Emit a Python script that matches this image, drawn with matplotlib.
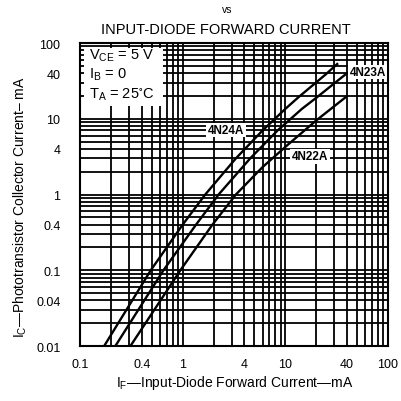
import matplotlib
matplotlib.use("Agg")
import matplotlib.pyplot as plt
from matplotlib.patches import Rectangle
from matplotlib.ticker import NullFormatter, LogLocator
import numpy as np

plt.rcParams['font.family'] = ['Liberation Sans', 'DejaVu Sans']
plt.rcParams['mathtext.fontset'] = 'custom'
plt.rcParams['mathtext.rm'] = 'Liberation Sans'
plt.rcParams['mathtext.default'] = 'regular'

# Data (IF in mA, IC in mA)
if_4n24a = [0.172, 0.489, 1.0, 1.66, 3.3, 6.0, 10, 13.4, 25.0, 32.0]
ic_4n24a = [0.01, 0.1, 0.4, 1.0, 3.0, 7.0, 13.5, 19.2, 39.0, 52.8]
if_4n23a = [0.221, 0.65, 1.35, 2.24, 4.55, 8.4, 14.5, 20.3, 39.0]
ic_4n23a = [0.01, 0.1, 0.4, 1.0, 3.0, 7.0, 13.5, 19.2, 39.0]
if_4n22a = [0.31, 0.95, 1.95, 3.3, 6.0, 10.5, 20.0, 38.6]
ic_4n22a = [0.01, 0.1, 0.4, 1.0, 2.3, 4.5, 9.5, 19.2]

x_ticks = [0.1, 0.4, 1, 4, 10, 40, 100]
x_labels = ['0.1', '0.4', '1', '4', '10', '40', '100']
y_ticks = [0.01, 0.04, 0.1, 0.4, 1, 4, 10, 40, 100]
y_labels = ['0.01', '0.04', '0.1', '0.4', '1', '4', '10', '40', '100']

fig = plt.figure(figsize=(4.01, 4.02), dpi=100)
ax = fig.add_axes([80/401, 55/402, 308/401, 303/402])
ax.set_xscale('log')
ax.set_yscale('log')
ax.set_xlim(0.1, 100)
ax.set_ylim(0.01, 100)

ax.set_xticks(x_ticks)
ax.set_xticklabels(x_labels)
ax.set_yticks(y_ticks)
ax.set_yticklabels(y_labels)
ax.xaxis.set_minor_locator(LogLocator(base=10, subs=np.arange(1, 10), numticks=20))
ax.yaxis.set_minor_locator(LogLocator(base=10, subs=np.arange(1, 10), numticks=20))
ax.xaxis.set_minor_formatter(NullFormatter())
ax.yaxis.set_minor_formatter(NullFormatter())
ax.grid(True, which='minor', color='black', lw=1.3)
ax.grid(True, which='major', color='black', lw=1.3)
ax.tick_params(which='both', length=0, labelsize=9)
ax.tick_params(axis='y', pad=14)
ax.tick_params(axis='x', pad=9)
for s in ax.spines.values():
    s.set_linewidth(1.5)

for xs, ys in [(if_4n24a, ic_4n24a), (if_4n23a, ic_4n23a), (if_4n22a, ic_4n22a)]:
    ax.plot(xs, ys, color='black', lw=1.7, zorder=3)

# info box
ax.add_patch(Rectangle((0.012, 0.792), 0.258, 0.191, transform=ax.transAxes,
                       facecolor='white', edgecolor='none', zorder=4))
ax.text(0.03, 0.96, r'V$_{CE}$ = 5 V', transform=ax.transAxes, fontsize=10.5, va='center', zorder=5)
ax.text(0.03, 0.898, r'I$_B$ = 0', transform=ax.transAxes, fontsize=10.5, va='center', zorder=5)
ax.text(0.03, 0.832, r'T$_A$ = 25$^{\circ}$C', transform=ax.transAxes, fontsize=10.5, va='center', zorder=5)

bb = dict(facecolor='white', edgecolor='none', pad=1)
ax.text(2.64, 7.1, '4N24A', fontsize=8.5, fontweight='bold', ha='center', va='center', bbox=bb, zorder=5)
ax.text(63.7, 41.4, '4N23A', fontsize=8.5, fontweight='bold', ha='center', va='center', bbox=bb, zorder=5)
ax.text(17.4, 3.2, '4N22A', fontsize=8.5, fontweight='bold', ha='center', va='center', bbox=bb, zorder=5)

fig.text(227/401, 1 - 10/402, 'vs', fontsize=7.5, ha='center', va='center')
fig.text(226/401, 1 - 30/402, 'INPUT-DIODE FORWARD CURRENT', fontsize=10.5, ha='center', va='center')
fig.text(235/401, 1 - 383/402, r'I$_F$—Input-Diode Forward Current—mA', fontsize=10, ha='center', va='center')
fig.text(20/401, 1 - 207/402, r'I$_C$—Phototransistor Collector Current– mA', fontsize=10,
         ha='center', va='center', rotation=90)

fig.savefig('out.png', dpi=100)
